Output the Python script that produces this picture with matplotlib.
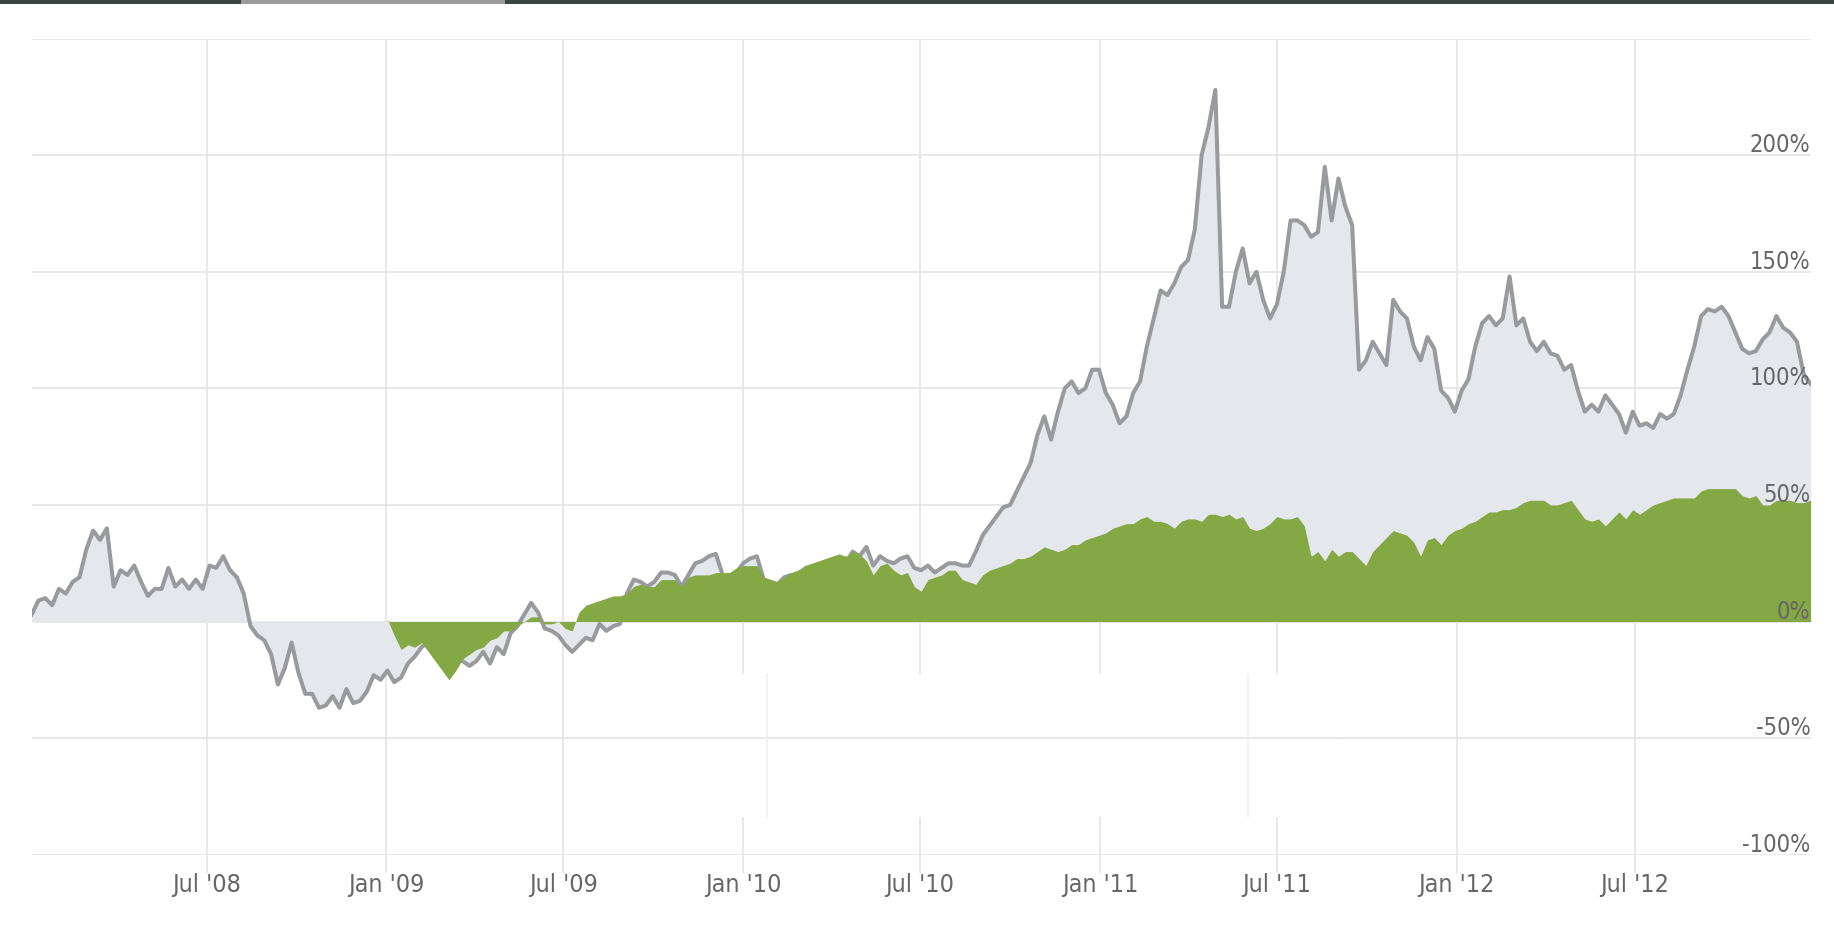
import matplotlib
matplotlib.use('Agg')
import matplotlib.pyplot as plt
import matplotlib.transforms as mtransforms
import pandas as pd

# weekly closes, cumulative return in %
weeks = pd.date_range('2008-01-04', periods=261, freq='7D')

stock = [
    3, 9, 10, 7, 14, 12, 17, 19, 31, 39,
    35, 40, 15, 22, 20, 24, 17, 11, 14, 14,
    23, 15, 18, 14, 18, 14, 24, 23, 28, 22,
    19, 12, -2, -6, -8, -14, -27, -20, -9, -22,
    -31, -31, -37, -36, -32, -37, -29, -35, -34, -30,
    -23, -25, -21, -26, -24, -18, -15, -11, -9, -11,
    -14, -15, -16, -17, -19, -17, -13, -18, -11, -14,
    -5, -2, 3, 8, 4, -3, -4, -6, -10, -13,
    -10, -7, -8, -1, -4, -2, -1, 12, 18, 17,
    15, 17, 21, 21, 20, 15, 20, 25, 26, 28,
    29, 20, 19, 21, 25, 27, 28, 18, 17, 16,
    19, 20, 18, 19, 20, 21, 22, 24, 26, 25,
    30, 28, 32, 24, 28, 26, 25, 27, 28, 23,
    22, 24, 21, 23, 25, 25, 24, 24, 30, 37,
    41, 45, 49, 50, 56, 62, 68, 80, 88, 78,
    90, 100, 103, 98, 100, 108, 108, 98, 93, 85,
    88, 98, 103, 118, 130, 142, 140, 145, 152, 155,
    168, 200, 212, 228, 135, 135, 150, 160, 145, 150,
    138, 130, 136, 150, 172, 172, 170, 165, 167, 195,
    172, 190, 178, 170, 108, 112, 120, 115, 110, 138,
    133, 130, 118, 112, 122, 117, 99, 96, 90, 99,
    104, 118, 128, 131, 127, 130, 148, 127, 130, 120,
    116, 120, 115, 114, 108, 110, 99, 90, 93, 90,
    97, 93, 89, 81, 90, 84, 85, 83, 89, 87,
    89, 97, 108, 118, 131, 134, 133, 135, 131, 124,
    117, 115, 116, 121, 124, 131, 126, 124, 120, 106,
    102,
]

# benchmark starts on the first week of 2009
bench_start = 52
bench = [
    1, -6, -12, -10, -11, -9, -13, -17,
    -21, -25, -21, -16, -14, -12, -11, -8, -7, -4,
    -4, -2, 0, 2, 2, -1, -1, 0, -3, -4,
    4, 7, 8, 9, 10, 11, 11, 12, 15, 16,
    15, 15, 18, 18, 18, 15, 19, 20, 20, 20,
    21, 21, 21, 23, 24, 24, 24, 19, 18, 17,
    19, 21, 22, 24, 25, 26, 27, 28, 29, 28,
    30, 29, 26, 20, 24, 25, 22, 20, 21, 15,
    13, 18, 19, 20, 22, 22, 18, 17, 16, 20,
    22, 23, 24, 25, 27, 27, 28, 30, 32, 31,
    30, 31, 33, 33, 35, 36, 37, 38, 40, 41,
    42, 42, 44, 45, 43, 43, 42, 40, 43, 44,
    44, 43, 46, 46, 45, 46, 44, 45, 40, 39,
    40, 42, 45, 44, 44, 45, 41, 28, 30, 26,
    31, 28, 30, 30, 27, 24, 30, 33, 36, 39,
    38, 37, 34, 28, 35, 36, 33, 37, 39, 40,
    42, 43, 45, 47, 47, 48, 48, 49, 51, 52,
    52, 52, 50, 50, 51, 52, 48, 44, 43, 44,
    41, 44, 47, 44, 48, 46, 48, 50, 51, 52,
    53, 53, 53, 53, 56, 57, 57, 57, 57, 57,
    54, 53, 54, 50, 50, 52, 52, 52, 51, 51,
    52,
]

tick_dates = ['2008-07-01', '2009-01-01', '2009-07-01', '2010-01-01', '2010-07-01',
              '2011-01-01', '2011-07-01', '2012-01-01', '2012-07-01']
tick_labels = ["Jul '08", "Jan '09", "Jul '09", "Jan '10", "Jul '10",
               "Jan '11", "Jul '11", "Jan '12", "Jul '12"]
y_ticks = [-100, -50, 0, 50, 100, 150, 200, 250]
y_labels = ['-100%', '-50%', '0%', '50%', '100%', '150%', '200%']

FONT = ['DejaVu Sans']
GRID = '#e6e6e6'
TEXT = '#666666'

W, H = 1834, 927
fig = plt.figure(figsize=(W / 100, H / 100), dpi=100)
fig.patch.set_facecolor('white')

# dark strip along the top with a lighter tab
fig.add_artist(plt.Rectangle((0, 1 - 3.5 / H), 1, 3.5 / H, transform=fig.transFigure,
                             color='#3a4441', lw=0))
fig.add_artist(plt.Rectangle((241 / W, 1 - 3.5 / H), 264 / W, 3.5 / H, transform=fig.transFigure,
                             color='#9b9b9b', lw=0))

ax = fig.add_axes([31.6 / W, (H - 854.7) / H, (1810.6 - 31.6) / W, (854.7 - 38.6) / H])
ax.set_xlim(pd.Timestamp('2008-01-04'), pd.Timestamp('2012-12-28'))
ax.set_ylim(-100, 250)

ax.fill_between(weeks, stock, 0, color='#e4e8ec', lw=0, zorder=1)
ax.plot(weeks, stock, color='#989a9d', lw=2.9, zorder=2, solid_joinstyle='round')
ax.fill_between(weeks[bench_start:], bench, 0, color='#84a843', lw=0, zorder=3)

ax.set_axisbelow(True)
ax.set_yticks(y_ticks)
ax.set_xticks(pd.to_datetime(tick_dates))
ax.set_xticklabels(tick_labels, family=FONT, stretch='condensed', fontsize=18, color=TEXT)
ax.grid(True, color=GRID, lw=1.3)
ax.tick_params(axis='y', length=0, labelleft=False)
ax.tick_params(axis='x', length=13, width=1.3, color=GRID, pad=0)
for s in ax.spines.values():
    s.set_visible(False)

# the screenshot has a blank patch below zero where some gridlines were not redrawn
ax.fill_between(pd.to_datetime(['2009-12-15', '2011-09-01']), -83.8, -22.6,
                color='white', lw=0, zorder=0.8)
ax.axhline(-50, color=GRID, lw=1.3, zorder=0.9)
for d in ['2010-01-25', '2011-06-01']:
    ax.plot(pd.to_datetime([d, d]), [-83.8, -22.6], color='#efefef', lw=1.1, zorder=0.9)

# y labels sit just above their gridlines on the right edge
trans = mtransforms.blended_transform_factory(ax.transAxes, ax.transData) + \
    mtransforms.ScaledTranslation(0, 3 / 100, fig.dpi_scale_trans)
for v, lab in zip(y_ticks, y_labels):
    ax.text(1.0, v, lab, transform=trans, ha='right', va='baseline',
            family=FONT, stretch='condensed', fontsize=17, color=TEXT, zorder=5)

fig.savefig('out.png', dpi=100, facecolor='white')
